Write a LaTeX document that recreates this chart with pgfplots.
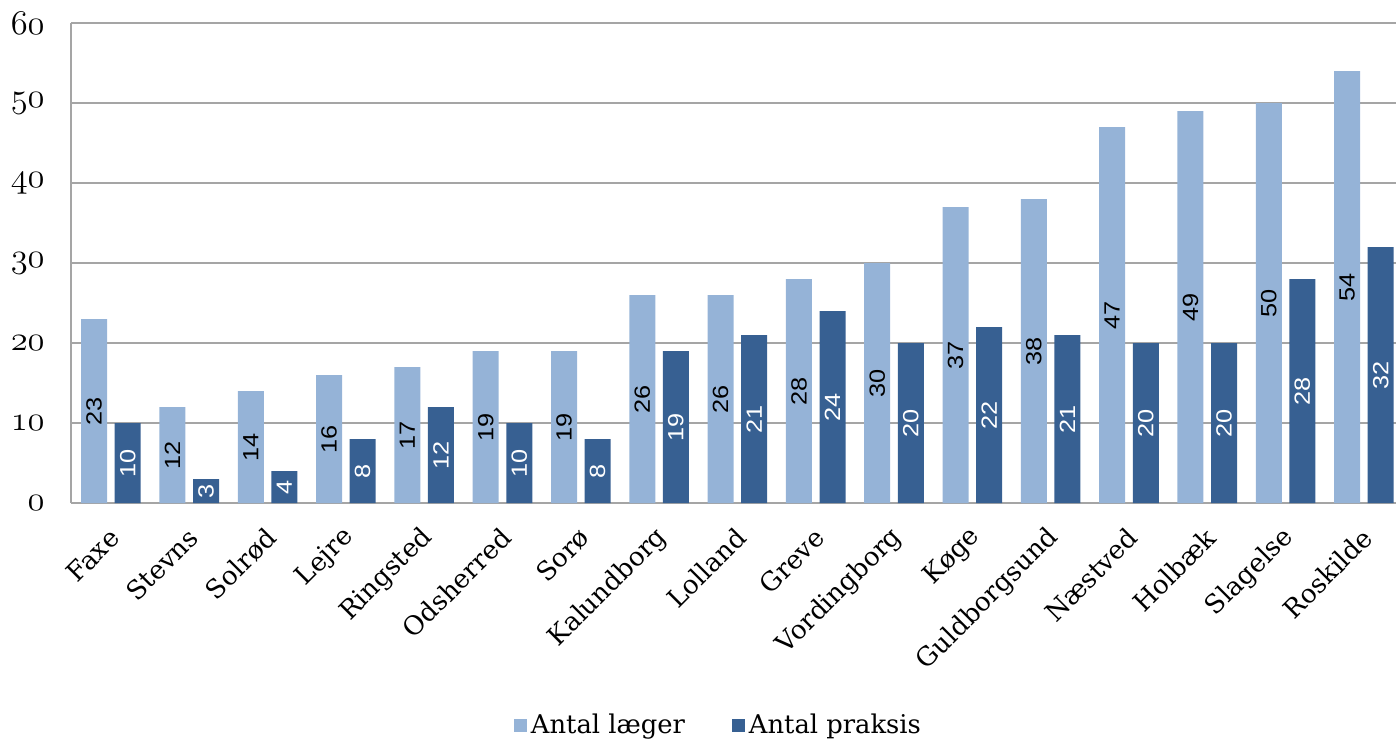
\documentclass[border=0pt]{standalone}
\usepackage{fontspec}
\setmainfont{DejaVu Serif}
\usepackage{pgfplots}
\pgfplotsset{compat=1.18}
\newfontfamily\arial{Liberation Sans}
\newcommand\osf[1]{{\usefont{OML}{lmm}{m}{it}#1}}
\definecolor{light}{RGB}{149,179,215}
\definecolor{dark}{RGB}{55,96,146}
\definecolor{gridc}{RGB}{165,165,165}
\begin{document}
\begin{tikzpicture}
\begin{axis}[
  scale only axis, width=662.5pt, height=240pt,
  xmin=-0.51, xmax=16.41, ymin=0, ymax=60,
  ybar=3.8pt, bar width=13pt,
  /pgf/number format/assume math mode=true,
  axis lines=left,
  axis line style={-, draw=gridc, line width=0.6pt},
  ymajorgrids, grid style={draw=gridc, line width=0.6pt},
  major tick length=0pt,
  xtick={0,...,16},
  xticklabels={Faxe,Stevns,Solrød,Lejre,Ringsted,Odsherred,Sorø,Kalundborg,Lolland,Greve,Vordingborg,Køge,Guldborgsund,Næstved,Holbæk,Slagelse,Roskilde},
  xticklabel style={xshift=2pt, yshift=-15pt, rotate=45, anchor=east, inner sep=0pt, font=\fontsize{13}{15}\selectfont},
  ytick={0,10,20,30,40,50,60},
  yticklabels={\osf{0},\osf{10},\osf{20},\osf{30},\osf{40},\osf{50},\osf{60}},
  yticklabel style={anchor=east, inner sep=0pt, xshift=-13pt, font=\fontsize{18}{20}\selectfont},
  nodes near coords,
  visualization depends on={rawy \as \rawy},
  every node near coord/.append style={anchor=center, yshift=-2pt*\rawy, rotate=90, xscale=1.15, inner sep=0pt, font=\arial\fontsize{11}{12}\selectfont},
  legend style={at={(0.4894,-0.4625)}, anchor=center, draw=none, fill=none, inner sep=0pt, legend columns=2,
    font=\fontsize{12.9}{15}\selectfont,
    /tikz/every even column/.append style={column sep=21.5pt}},
  legend cell align=left,
  legend image code/.code={\path[#1, draw=none] (0pt,-3.25pt) rectangle (6.5pt,3.25pt);},
]
\coordinate (bl) at (rel axis cs:0,0);
\addplot[fill=light, draw=none, every node near coord/.append style={text=black}] coordinates {
(0,23) (1,12) (2,14) (3,16) (4,17) (5,19) (6,19) (7,26) (8,26) (9,28) (10,30) (11,37) (12,38) (13,47) (14,49) (15,50) (16,54)};
\addplot[fill=dark, draw=none, every node near coord/.append style={text=white}] coordinates {
(0,10) (1,3) (2,4) (3,8) (4,12) (5,10) (6,8) (7,19) (8,21) (9,24) (10,20) (11,22) (12,21) (13,20) (14,20) (15,28) (16,32)};
\legend{Antal læger, Antal praksis}
\end{axis}
\pgfresetboundingbox
\path[use as bounding box] (bl) ++(-35.5pt,-118.5pt) rectangle ++(698pt,370pt);
\end{tikzpicture}
\end{document}
